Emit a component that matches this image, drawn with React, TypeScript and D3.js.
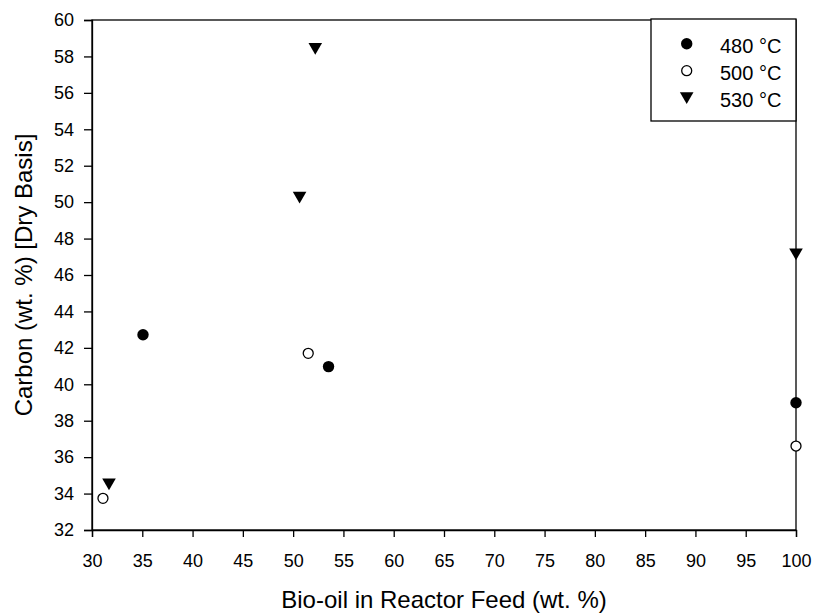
import * as d3 from "d3";
import React, { useEffect, useRef } from "react";

// Carbon content of bio-oil char vs. bio-oil fraction in reactor feed
const series480x = [35.07, 53.52, 100];
const series480y = [42.72, 40.97, 38.99];
const series500x = [31.09, 51.5, 100];
const series500y = [33.74, 41.7, 36.61];
const series530x = [31.69, 50.64, 52.2, 100];
const series530y = [34.53, 50.27, 58.44, 47.16];
const legendLabels = ["480 °C", "500 °C", "530 °C"];
const xTicks = d3.range(30, 101, 5);
const yTicks = d3.range(32, 61, 2);

const W = 814;
const H = 614;
const margin = { left: 92, right: 18, top: 20, bottom: 84 };
const font = "Arial, 'Liberation Sans', sans-serif";

const App: React.FC = () => {
  const ref = useRef<SVGSVGElement | null>(null);

  useEffect(() => {
    if (!ref.current) return;
    const svg = d3.select(ref.current);
    svg.selectAll("*").remove();

    const x = d3.scaleLinear().domain([30, 100]).range([margin.left, W - margin.right]);
    const y = d3.scaleLinear().domain([32, 60]).range([H - margin.bottom, margin.top]);

    const g = svg.append("g");

    // frame
    g.append("rect")
      .attr("x", x(30))
      .attr("y", y(60))
      .attr("width", x(100) - x(30))
      .attr("height", y(32) - y(60))
      .attr("fill", "none")
      .attr("stroke", "#000")
      .attr("stroke-width", 1.3);

    const xAxis = g
      .append("g")
      .attr("transform", `translate(0,${y(32)})`)
      .call(d3.axisBottom(x).tickValues(xTicks).tickSize(7).tickPadding(17).tickFormat(d3.format("d")));
    const yAxis = g
      .append("g")
      .attr("transform", `translate(${x(30)},0)`)
      .call(d3.axisLeft(y).tickValues(yTicks).tickSize(8).tickPadding(10).tickFormat(d3.format("d")));

    [xAxis, yAxis].forEach((a) => {
      a.select(".domain").attr("stroke-width", 1.3);
      a.selectAll(".tick line").attr("stroke-width", 1.3);
      a.selectAll(".tick text").attr("font-family", font).attr("font-size", 18).attr("fill", "#000");
    });

    // axis titles
    g.append("text")
      .attr("x", (x(30) + x(100)) / 2)
      .attr("y", 608)
      .attr("text-anchor", "middle")
      .attr("font-family", font)
      .attr("font-size", 24)
      .text("Bio-oil in Reactor Feed (wt. %)");
    g.append("text")
      .attr("transform", `translate(32,${(y(32) + y(60)) / 2}) rotate(-90)`)
      .attr("text-anchor", "middle")
      .attr("font-family", font)
      .attr("font-size", 24)
      .text("Carbon (wt. %) [Dry Basis]");

    const tri = d3.symbol().type(d3.symbolTriangle).size(80);

    // 480 °C filled circles
    g.selectAll(".s480")
      .data(d3.zip(series480x, series480y))
      .enter()
      .append("circle")
      .attr("cx", (d) => x(d[0]))
      .attr("cy", (d) => y(d[1]))
      .attr("r", 5.7)
      .attr("fill", "#000");

    // 500 °C open circles
    g.selectAll(".s500")
      .data(d3.zip(series500x, series500y))
      .enter()
      .append("circle")
      .attr("cx", (d) => x(d[0]))
      .attr("cy", (d) => y(d[1]))
      .attr("r", 5)
      .attr("fill", "#fff")
      .attr("stroke", "#000")
      .attr("stroke-width", 1.3);

    // 530 °C down triangles
    g.selectAll(".s530")
      .data(d3.zip(series530x, series530y))
      .enter()
      .append("path")
      .attr("d", tri as any)
      .attr("transform", (d) => `translate(${x(d[0])},${y(d[1]) - 1.5}) rotate(180)`)
      .attr("fill", "#000");

    // legend
    const lx = 651;
    const ly = y(60) - 1;
    const lg = g.append("g");
    lg.append("rect")
      .attr("x", lx)
      .attr("y", ly)
      .attr("width", x(100) - lx)
      .attr("height", 102)
      .attr("fill", "#fff")
      .attr("stroke", "#000")
      .attr("stroke-width", 1.3);
    legendLabels.forEach((lab, i) => {
      const cy = 43.7 + i * 27;
      if (i === 0) lg.append("circle").attr("cx", 686.7).attr("cy", cy).attr("r", 5.7).attr("fill", "#000");
      if (i === 1)
        lg.append("circle")
          .attr("cx", 686.7)
          .attr("cy", cy)
          .attr("r", 5)
          .attr("fill", "#fff")
          .attr("stroke", "#000")
          .attr("stroke-width", 1.3);
      if (i === 2)
        lg.append("path")
          .attr("d", tri as any)
          .attr("transform", `translate(686.7,${cy - 1.5}) rotate(180)`)
          .attr("fill", "#000");
      lg.append("text")
        .attr("x", 720)
        .attr("y", cy + 9.6)
        .attr("font-family", font)
        .attr("font-size", 20)
        .text(lab);
    });
  }, []);

  return (
    <svg
      ref={ref}
      width={W}
      height={H}
      style={{ position: "absolute", left: 0, top: 0, background: "#fff" }}
    ></svg>
  );
};

export default App;
